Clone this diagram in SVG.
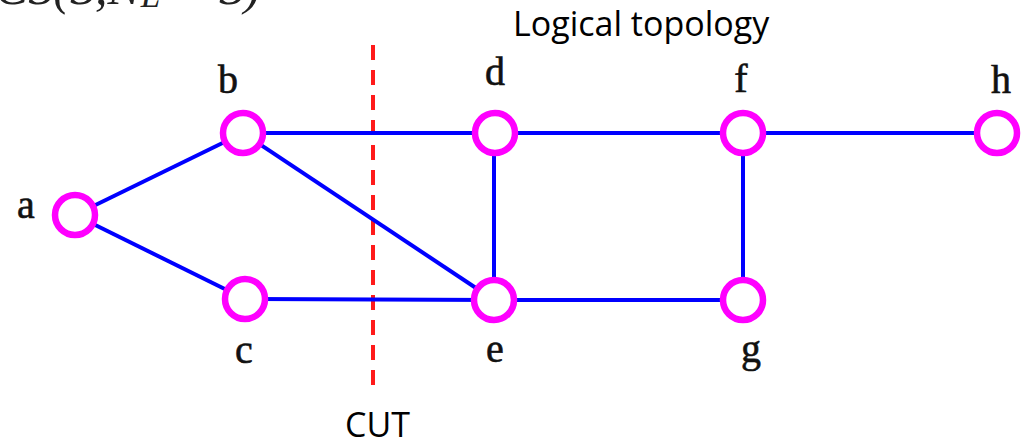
<svg xmlns="http://www.w3.org/2000/svg" width="1022" height="440" viewBox="0 0 1022 440">
<style>
.edge{stroke:#0000ff;stroke-width:4;fill:none}
.node circle{fill:#fff;stroke:#ff00ff;stroke-width:6.5}
.lbl{font-family:"Liberation Serif",serif;font-size:40px;fill:#111;text-anchor:middle;stroke:#111;stroke-width:0.6}
.sans{font-family:"Open Sans","Liberation Sans",sans-serif;font-size:34px;fill:#000}
</style>
<rect width="1022" height="440" fill="#fff"/>
<text x="-5" y="4" font-family="Liberation Serif,serif" font-style="italic" font-size="50" fill="#222">CS(S,N<tspan font-size="35" dy="3">L</tspan><tspan dy="-3"> − S)</tspan></text>
<text class="sans" x="513" y="36">Logical topology</text>
<text class="sans" x="345" y="437">CUT</text>
<line x1="373" y1="45" x2="373" y2="390" stroke="#ff1a1a" stroke-width="4" stroke-dasharray="15,10"/>
<g id="connectors">
<line class="edge" x1="75" y1="215" x2="243" y2="133"/>
<line class="edge" x1="75" y1="215" x2="245" y2="299"/>
<line class="edge" x1="243" y1="133" x2="495" y2="133"/>
<line class="edge" x1="243" y1="133" x2="494" y2="300"/>
<line class="edge" x1="245" y1="299" x2="494" y2="300"/>
<line class="edge" x1="494" y1="133" x2="494" y2="300"/>
<line class="edge" x1="495" y1="133" x2="743" y2="133"/>
<line class="edge" x1="743" y1="133" x2="997" y2="133"/>
<line class="edge" x1="743" y1="133" x2="743" y2="300"/>
<line class="edge" x1="494" y1="300" x2="743" y2="300"/>
</g>
<g id="node-a" class="node"><circle cx="75" cy="215" r="20"/><text class="lbl" x="26" y="218">a</text></g>
<g id="node-b" class="node"><circle cx="243" cy="133" r="20"/><text class="lbl" x="228" y="93">b</text></g>
<g id="node-c" class="node"><circle cx="245" cy="299" r="20"/><text class="lbl" x="244" y="363">c</text></g>
<g id="node-d" class="node"><circle cx="495" cy="133" r="20"/><text class="lbl" x="495" y="85">d</text></g>
<g id="node-e" class="node"><circle cx="494" cy="300" r="20"/><text class="lbl" x="495" y="362">e</text></g>
<g id="node-f" class="node"><circle cx="743" cy="133" r="20"/><text class="lbl" x="741" y="92">f</text></g>
<g id="node-g" class="node"><circle cx="743" cy="300" r="20"/><text class="lbl" x="751" y="362">g</text></g>
<g id="node-h" class="node"><circle cx="997" cy="133" r="20"/><text class="lbl" x="1001" y="93">h</text></g>
</svg>
